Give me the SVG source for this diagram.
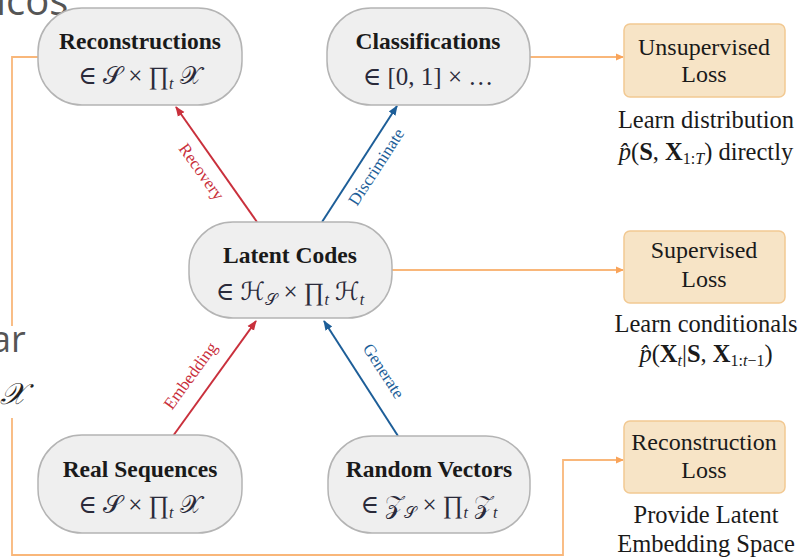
<svg xmlns="http://www.w3.org/2000/svg" width="810" height="558" viewBox="0 0 810 558">
<style>
.node{fill:#efefef;stroke:#b4b4b4;stroke-width:1.5}
.loss{fill:#f7e4c6;stroke:#f2c992;stroke-width:1.5}
.title{font-family:"Liberation Serif","DejaVu Serif",serif;font-weight:bold;font-size:23.5px;fill:#1a1a1a;text-anchor:middle}
.math{font-family:"Liberation Serif","DejaVu Serif","DejaVu Sans",serif;font-size:25px;fill:#2a2a3a;text-anchor:middle}
.lt{font-family:"Liberation Serif","DejaVu Serif",serif;font-size:24px;fill:#1a1a1a;text-anchor:middle}
.dt{font-family:"Liberation Serif","DejaVu Serif",serif;font-size:24.5px;fill:#1a1a1a;text-anchor:middle}
.orange{fill:none;stroke:#f9b77a;stroke-width:1.8}
.red{stroke:#c9303c;stroke-width:2;fill:none}
.blue{stroke:#1d5e98;stroke-width:2;fill:none}
.rl{font-family:"Liberation Serif","DejaVu Serif",serif;font-size:17px;fill:#c9303c;text-anchor:middle}
.bl{font-family:"Liberation Serif","DejaVu Serif",serif;font-size:17px;fill:#1d5e98;text-anchor:middle}
.frag{font-family:"Open Sans","Liberation Sans",sans-serif;fill:#555}
</style>
<defs>
<marker id="ao" markerWidth="8" markerHeight="8" refX="7" refY="4" orient="auto" markerUnits="userSpaceOnUse"><path d="M0,0.5 L8,4 L0,7.5 z" fill="#f9a45a"/></marker>
<marker id="ar" markerWidth="10" markerHeight="10" refX="9" refY="5" orient="auto" markerUnits="userSpaceOnUse"><path d="M0,1 L10,5 L0,9 z" fill="#c9303c"/></marker>
<marker id="ab" markerWidth="10" markerHeight="10" refX="9" refY="5" orient="auto" markerUnits="userSpaceOnUse"><path d="M0,1 L10,5 L0,9 z" fill="#1d5e98"/></marker>
</defs>
<rect width="810" height="558" fill="#ffffff"/>
<g id="connectors">
<path class="orange" d="M530,57 H623" marker-end="url(#ao)"/>
<path class="orange" d="M392,270 H623" marker-end="url(#ao)"/>
<path class="orange" d="M38,57 H12 V555 H563 V460 H623" marker-end="url(#ao)"/>
<line class="red" x1="257" y1="222" x2="176" y2="107" marker-end="url(#ar)"/>
<line class="blue" x1="322" y1="222" x2="397" y2="106" marker-end="url(#ab)"/>
<line class="red" x1="173" y1="436" x2="256" y2="321" marker-end="url(#ar)"/>
<line class="blue" x1="398" y1="436" x2="324" y2="321" marker-end="url(#ab)"/>
<text class="rl" transform="translate(197,175) rotate(54.5)">Recovery</text>
<text class="bl" transform="translate(381,170) rotate(-57)">Discriminate</text>
<text class="rl" transform="translate(195,379) rotate(-54)">Embedding</text>
<text class="bl" transform="translate(379,374) rotate(57)">Generate</text>
</g>
<g id="fragments">
<text class="frag" x="-4" y="15" font-size="40">icos</text>
<rect x="0" y="326" width="16" height="92" fill="#ffffff"/>
<text class="frag" x="-9" y="352" font-size="36">ar</text>
<text x="0" y="404" font-family="'DejaVu Serif','Liberation Serif',serif" font-style="italic" font-size="30" fill="#222">𝒳</text>
</g>
<g id="reconstructions">
<rect class="node" x="38" y="8" width="204" height="97" rx="44"/>
<text class="title" x="140" y="49">Reconstructions</text>
<text class="math" x="140" y="84">∈ 𝒮 × ∏<tspan font-size="16" font-style="italic" dy="5">t</tspan><tspan dy="-5"> 𝒳</tspan></text>
</g>
<g id="classifications">
<rect class="node" x="327" y="8" width="203" height="97" rx="44"/>
<text class="title" x="428" y="49">Classifications</text>
<text class="math" x="428" y="85">∈ [0, 1] × …</text>
</g>
<g id="latent">
<rect class="node" x="189" y="222" width="203" height="96" rx="44"/>
<text class="title" x="290" y="263">Latent Codes</text>
<text class="math" x="290" y="300">∈ ℋ<tspan font-size="16" dy="5">𝒮</tspan><tspan dy="-5"> × ∏</tspan><tspan font-size="16" font-style="italic" dy="5">t</tspan><tspan dy="-5"> ℋ</tspan><tspan font-size="16" font-style="italic" dy="5">t</tspan></text>
</g>
<g id="real">
<rect class="node" x="38" y="435" width="204" height="98" rx="44"/>
<text class="title" x="140" y="477">Real Sequences</text>
<text class="math" x="140" y="513">∈ 𝒮 × ∏<tspan font-size="16" font-style="italic" dy="5">t</tspan><tspan dy="-5"> 𝒳</tspan></text>
</g>
<g id="random">
<rect class="node" x="328" y="436" width="202" height="97" rx="44"/>
<text class="title" x="429" y="477">Random Vectors</text>
<text class="math" x="429" y="513">∈ 𝒵<tspan font-size="16" dy="5">𝒮</tspan><tspan dy="-5"> × ∏</tspan><tspan font-size="16" font-style="italic" dy="5">t</tspan><tspan dy="-5"> 𝒵</tspan><tspan font-size="16" font-style="italic" dy="5">t</tspan></text>
</g>
<g id="unsup">
<rect class="loss" x="624" y="24" width="161" height="73" rx="6"/>
<text class="lt" x="704" y="55">Unsupervised</text>
<text class="lt" x="704" y="82">Loss</text>
<text class="dt" x="706" y="128">Learn distribution</text>
<text class="dt" x="706" y="160"><tspan font-style="italic">p̂</tspan>(<tspan font-weight="bold">S</tspan>, <tspan font-weight="bold">X</tspan><tspan font-size="16" dy="4">1:<tspan font-style="italic">T</tspan></tspan><tspan dy="-4">) directly</tspan></text>
</g>
<g id="sup">
<rect class="loss" x="624" y="231" width="161" height="72" rx="6"/>
<text class="lt" x="704" y="258">Supervised</text>
<text class="lt" x="704" y="287">Loss</text>
<text class="dt" x="706" y="332">Learn conditionals</text>
<text class="dt" x="706" y="362"><tspan font-style="italic">p̂</tspan>(<tspan font-weight="bold">X</tspan><tspan font-size="16" font-style="italic" dy="4">t</tspan><tspan dy="-4">|</tspan><tspan font-weight="bold">S</tspan>, <tspan font-weight="bold">X</tspan><tspan font-size="16" dy="4">1:<tspan font-style="italic">t</tspan>−1</tspan><tspan dy="-4">)</tspan></text>
</g>
<g id="recloss">
<rect class="loss" x="624" y="421" width="161" height="72" rx="6"/>
<text class="lt" x="704" y="450">Reconstruction</text>
<text class="lt" x="704" y="478">Loss</text>
<text class="dt" x="706" y="523">Provide Latent</text>
<text class="dt" x="706" y="552">Embedding Space</text>
</g>
</svg>
